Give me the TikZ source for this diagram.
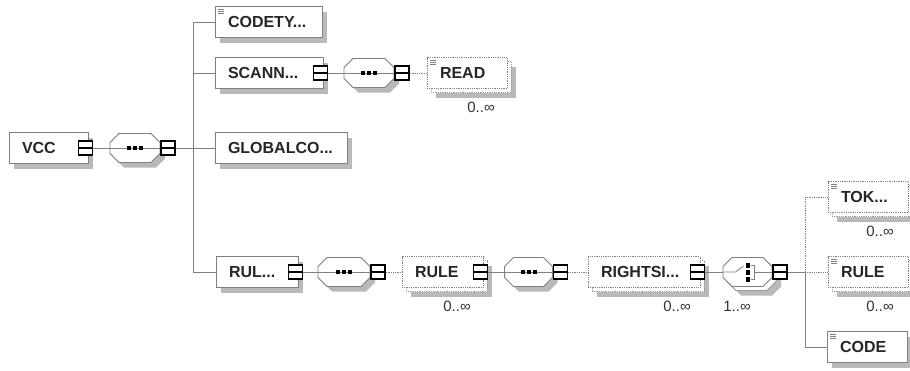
\documentclass[tikz,border=0pt]{standalone}
\usepackage{fontspec}
\setmainfont{Liberation Sans}
\usetikzlibrary{shadows}

% octagon round a compositor node
\newcommand\octagon[2]{%
  \path[#1] ([xshift=9pt]#2.north west) -- ([xshift=-9pt]#2.north east)
    -- ([yshift=-9pt]#2.north east) -- ([yshift=9pt]#2.south east)
    -- ([xshift=-9pt]#2.south east) -- ([xshift=9pt]#2.south west)
    -- ([yshift=9pt]#2.south west) -- ([yshift=-9pt]#2.north west) -- cycle;}
\newcommand\seqbox[1]{%
  \octagon{fill=gray!55, transform canvas={shift={(5pt,-5pt)}}}{#1}
  \octagon{fill=white, draw=gray, line width=0.8pt}{#1}
  \draw[gray, line width=0.8pt] (#1.west) -- (#1.east);
  \foreach \dx in {-6,0,6}
    \fill[black] ([xshift=\dx pt]#1.center) +(-2pt,-2pt) rectangle +(2pt,2pt);}
\newcommand\choicebox[1]{%
  \octagon{fill=gray!55, transform canvas={shift={(9pt,-9pt)}}}{#1}
  \octagon{fill=white, draw=gray!80, line width=0.8pt, transform canvas={shift={(4pt,-4pt)}}}{#1}
  \octagon{fill=white, draw=gray, line width=0.8pt}{#1}
  \draw[gray, line width=0.8pt] (#1.west) -- ([xshift=-12pt]#1.center)
    -- ([xshift=-4pt, yshift=6pt]#1.center);
  \foreach \dy in {-7,0,7}
    \fill[black] ([yshift=\dy pt]#1.center) +(-2pt,-2.5pt) rectangle +(2pt,2.5pt);
  \draw[gray, line width=0.8pt] ([xshift=3pt, yshift=7pt]#1.center) -| ([xshift=7pt]#1.center)
    |- ([xshift=3pt, yshift=-7pt]#1.center);
  \draw[gray, line width=0.8pt] ([xshift=7pt]#1.center) -- (#1.east);}

\begin{document}
\begin{tikzpicture}[x=1pt, y=-1pt,
					box base/.style={rectangle, draw=gray, fill=white, line width=0.8pt,
						minimum height=31pt, inner xsep=13pt, inner ysep=0pt,
						align=left, text width=#1, text=black!85,
						font=\fontsize{16}{18}\selectfont\bfseries},
					elem/.style={box base=#1,
						general shadow={shadow xshift=5pt, shadow yshift=-5pt, fill=gray!55}},
					many/.style={box base=#1, densely dotted,
						general shadow={shadow xshift=9pt, shadow yshift=-9pt, fill=gray!55},
						general shadow={shadow xshift=4pt, shadow yshift=-4pt, fill=white,
							draw=gray!80, line width=0.8pt, densely dotted}},
					simple/.style={path picture={
						\foreach \dy in {3,5,7}
							\draw[gray, line width=0.4pt, solid]
								([xshift=3pt, yshift=-\dy pt]path picture bounding box.north west) -- +(6pt,0pt);}},
					comp/.style={rectangle, minimum width=#1, minimum height=29pt,
						inner sep=0pt, outer sep=0pt},
					btn/.style={rectangle, draw=black, line width=1.4pt, fill=white,
						minimum size=14pt, inner sep=0pt,
						path picture={\draw[black, line width=1.2pt]
							(path picture bounding box.west) -- (path picture bounding box.east);}},
					occ/.style={font=\fontsize{15}{17}\selectfont, text=black!80, inner sep=0pt},
					link/.style={draw=gray, line width=0.8pt},
					optlink/.style={link, densely dotted}]

  \useasboundingbox (0,0) rectangle (910,370);

  % root and its sequence
  \node[elem=53pt] (vcc) at (48.5,148) {VCC};
  \node[btn] (vccbtn) at ([xshift=-3pt]vcc.east) {};
  \node[comp=50pt] (vccseq) at (135,148) {};
  \seqbox{vccseq}
  \node[btn] (vccseqbtn) at ([xshift=8pt]vccseq.east) {};

  \coordinate (tcode) at (193,22);
  \coordinate (tscan) at (193,73);
  \coordinate (tglob) at (193,148);
  \coordinate (trul) at (193,272);

  % children of VCC
  \node[elem=81pt, simple] (codety) at (268.5,22) {CODETY...};
  \node[elem=82pt] (scann) at (269,73) {SCANN...};
  \node[btn] (scannbtn) at ([xshift=-3pt]scann.east) {};
  \node[comp=50pt] (scannseq) at (369,73) {};
  \seqbox{scannseq}
  \node[btn] (scannseqbtn) at ([xshift=8pt]scannseq.east) {};
  \node[many=54pt, simple] (read) at (467,73) {READ};
  \node[occ] (readocc) at (481,107) {0..∞};

  \node[elem=106pt] (globalco) at (281,148) {GLOBALCO...};

  \node[elem=56pt] (rul) at (257,272) {RUL...};
  \node[btn] (rulbtn) at ([xshift=-3pt]rul.east) {};
  \node[comp=52pt] (rulseq) at (344,272) {};
  \seqbox{rulseq}
  \node[btn] (rulseqbtn) at ([xshift=8pt]rulseq.east) {};
  \node[many=55pt] (rule) at (442.5,272) {RULE};
  \node[btn] (rulebtn) at ([xshift=-3pt]rule.east) {};
  \node[occ] (ruleocc) at (457,306) {0..∞};
  \node[comp=48pt] (ruleseq) at (528.5,272) {};
  \seqbox{ruleseq}
  \node[btn] (ruleseqbtn) at ([xshift=8pt]ruleseq.east) {};
  \node[many=86pt] (rightsi) at (644,272) {RIGHTSI...};
  \node[btn] (rightsibtn) at ([xshift=-3pt]rightsi.east) {};
  \node[occ] (rightsiocc) at (677,306) {0..∞};
  \node[comp=49pt] (sel) at (747.5,272) {};
  \choicebox{sel}
  \node[btn] (selbtn) at ([xshift=8pt]sel.east) {};
  \node[occ] (selocc) at (737,306) {1..∞};

  \coordinate (jtok) at (805,197);
  \coordinate (jrule) at (805,272);
  \coordinate (jcode) at (805,347);

  % choice branches
  \node[many=54pt, simple] (tok) at (868,197) {TOK...};
  \node[occ] (tokocc) at (880,231) {0..∞};
  \node[many=54pt, simple] (ruler) at (868,272) {RULE};
  \node[occ] (ruleroc) at (880,306) {0..∞};
  \node[elem=54pt, simple] (code) at (867,347) {CODE};

  \draw[link] (vccbtn) -- (vccseq);
  \draw[link] (vccseqbtn) -- (tglob);
  \draw[link] (tcode) -- (trul);
  \draw[link] (tcode) -- (codety);
  \draw[link] (tscan) -- (scann);
  \draw[link] (tglob) -- (globalco);
  \draw[link] (trul) -- (rul);

  \draw[link] (scannbtn) -- (scannseq);
  \draw[optlink] (scannseqbtn) -- (read);

  \draw[link] (rulbtn) -- (rulseq);
  \draw[optlink] (rulseqbtn) -- (rule);
  \draw[link] (rulebtn) -- (ruleseq);
  \draw[optlink] (ruleseqbtn) -- (rightsi);
  \draw[link] (rightsibtn) -- (sel);
  \draw[link] (selbtn) -- (jrule);
  \draw[optlink] (jtok) -- (jrule);
  \draw[link] (jrule) -- (jcode);
  \draw[optlink] (jtok) -- (tok);
  \draw[optlink] (jrule) -- (ruler);
  \draw[link] (jcode) -- (code);
\end{tikzpicture}
\end{document}
